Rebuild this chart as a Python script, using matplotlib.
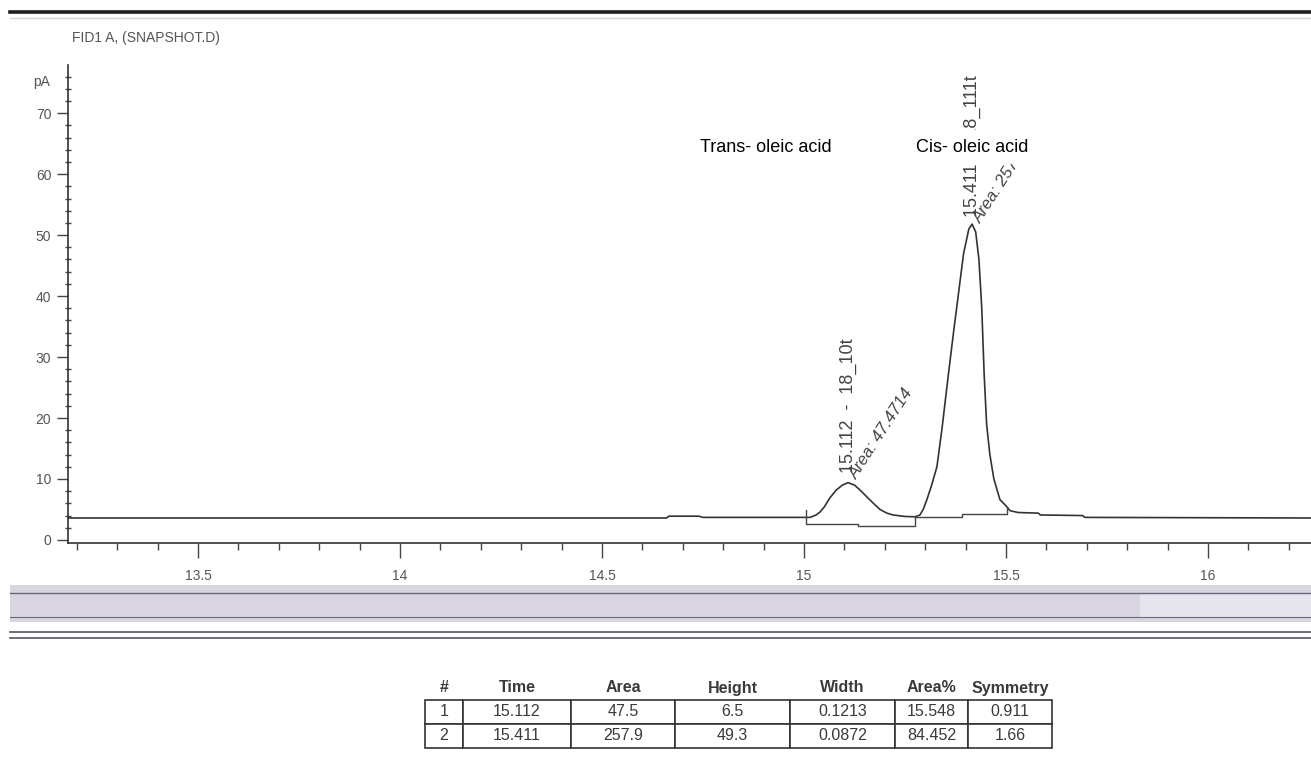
import matplotlib.pyplot as plt
from matplotlib.lines import Line2D
from matplotlib.patches import Rectangle

W, H = 1311, 765

# chromatogram trace (min, pA)
TIME = [13.178, 14.66, 14.665, 14.74, 14.75, 15.00, 15.015, 15.03, 15.04, 15.05,
        15.064, 15.08, 15.095, 15.109, 15.125, 15.14, 15.158, 15.175, 15.188,
        15.205, 15.22, 15.25, 15.275, 15.287, 15.295, 15.304, 15.315, 15.329,
        15.342, 15.356, 15.37, 15.381, 15.395, 15.408, 15.416, 15.425, 15.433,
        15.440, 15.446, 15.452, 15.46, 15.47, 15.485, 15.50, 15.51, 15.53,
        15.58, 15.585, 15.69, 15.695, 16.255]
SIGNAL = [3.6, 3.6, 3.9, 3.9, 3.7, 3.7, 3.7, 4.1, 4.6, 5.4,
          6.9, 8.2, 9.0, 9.4, 9.0, 8.1, 6.9, 5.8, 5.0,
          4.4, 4.1, 3.85, 3.8, 4.1, 5.0, 6.6, 8.8, 12.0,
          18.5, 26.4, 34.0, 39.7, 47.0, 51.0, 51.8, 50.5, 46.0,
          38.0, 27.0, 19.0, 14.0, 10.0, 6.6, 5.6, 4.8, 4.5,
          4.4, 4.1, 4.0, 3.7, 3.6]

# integration baselines
BASE1_T = [15.004, 15.004, 15.134, 15.134, 15.275, 15.275]
BASE1_Y = [4.9, 2.6, 2.6, 2.3, 2.3, 3.8]
BASE2_T = [15.275, 15.39, 15.39, 15.503, 15.503]
BASE2_Y = [3.8, 3.8, 4.2, 4.2, 5.4]

# peak labels
PEAK_RT = [15.109, 15.416]
PEAK_TOP = [11.0, 53.0]
PEAK_NAMES = ["15.112  -  18_10t", "15.411  -  18_111t"]
AREA_LABELS = ["Area: 47.4714", "Area: 257.929"]

# results table
COLUMNS = ["#", "Time", "Area", "Height", "Width", "Area%", "Symmetry"]
ROW1 = ["1", "15.112", "47.5", "6.5", "0.1213", "15.548", "0.911"]
ROW2 = ["2", "15.411", "257.9", "49.3", "0.0872", "84.452", "1.66"]

XTICKS = [13.5, 14, 14.5, 15, 15.5, 16]
YTICKS = [0, 10, 20, 30, 40, 50, 60, 70]

SANS = ["Liberation Sans", "DejaVu Sans"]


def fx(x):
    return x / W


def fy(y):
    return 1 - y / H


fig = plt.figure(figsize=(W / 100, H / 100), dpi=100)

# window decorations
fig.add_artist(Line2D([fx(10), 1], [fy(12), fy(12)], color="#1e1e1e", lw=2.6))
fig.add_artist(Line2D([fx(10), 1], [fy(18), fy(18)], color="#d5d5d5", lw=1.0))
fig.text(fx(72), fy(38), "FID1 A, (SNAPSHOT.D)", family=SANS, fontsize=10,
         color="#555555", va="center")
fig.text(fx(42), fy(82), "pA", family=SANS, fontsize=10, color="#555555",
         ha="center", va="center")

ax = fig.add_axes([fx(68), fy(543), 1 - fx(68), (543 - 65) / H])
ax.plot(TIME, SIGNAL, color="#333333", lw=1.2)
ax.plot(BASE1_T, BASE1_Y, color="#444444", lw=1.0)
ax.plot(BASE2_T, BASE2_Y, color="#444444", lw=1.0)
ax.set_xlim(13.178, 16.255)
ax.set_ylim(-0.5, 77.9)

for sp in ["top", "right"]:
    ax.spines[sp].set_visible(False)
for sp in ["left", "bottom"]:
    ax.spines[sp].set_color("#333333")
    ax.spines[sp].set_linewidth(1.2)

ax.set_xticks(XTICKS)
ax.set_xticklabels([f"{t:g}" for t in XTICKS])
ax.set_xticks([13.2 + 0.1 * i for i in range(31)], minor=True)
ax.set_yticks(YTICKS)
ax.set_yticks(list(range(0, 78, 2)), minor=True)
ax.tick_params(axis="x", which="major", direction="out", length=11, width=1.0,
               color="#444444", labelcolor="#555555", labelsize=10, pad=8)
ax.tick_params(axis="x", which="minor", direction="out", length=5, width=1.0,
               color="#444444")
ax.tick_params(axis="y", which="major", direction="out", length=8, width=1.0,
               color="#444444", labelcolor="#555555", labelsize=10, pad=4)
ax.tick_params(axis="y", which="minor", direction="inout", length=4, width=1.0,
               color="#444444")
for lab in ax.get_xticklabels() + ax.get_yticklabels():
    lab.set_family(SANS)

for rt, top, name, area in zip(PEAK_RT, PEAK_TOP, PEAK_NAMES, AREA_LABELS):
    ax.text(rt, top, name, rotation=90, rotation_mode="anchor", ha="left",
            va="center", fontsize=13, color="#444444", clip_on=False,
            family=SANS)
    ax.text(rt + 0.013, top - 0.8, area, rotation=57, rotation_mode="anchor",
            ha="left", va="center", fontsize=12, style="italic",
            color="#444444", clip_on=False, family=SANS)

box = dict(facecolor="white", edgecolor="none", pad=6)
fig.text(fx(766), fy(148), "Trans- oleic acid", ha="center", va="center",
         fontsize=13, family=SANS, bbox=box)
fig.text(fx(972), fy(147), "Cis- oleic acid", ha="center", va="center",
         fontsize=13, family=SANS, bbox=box)

# scroll bar band
fig.add_artist(Rectangle((fx(10), fy(622)), 1 - fx(10), (622 - 585) / H,
                         transform=fig.transFigure, facecolor="#d8d4e0",
                         edgecolor="none"))
fig.add_artist(Rectangle((fx(1140), fy(617)), 1 - fx(1140), (617 - 594) / H,
                         transform=fig.transFigure, facecolor="#e6e4ec",
                         edgecolor="none"))
for yy, c, lw in [(593, "#6a6878", 1.0), (617, "#6a6878", 0.8),
                  (632, "#55535f", 1.2), (638, "#55535f", 1.2)]:
    fig.add_artist(Line2D([fx(10), 1], [fy(yy), fy(yy)], color=c, lw=lw))

# results table
col_edges = [425, 463, 571, 675, 790, 895, 968, 1052]
tab_ax = fig.add_axes([fx(425), fy(748), (1052 - 425) / W, (748 - 676) / H])
tab_ax.axis("off")
widths = [col_edges[i + 1] - col_edges[i] for i in range(len(COLUMNS))]
tbl = tab_ax.table(cellText=[COLUMNS, ROW1, ROW2], colWidths=widths,
                   cellLoc="center", bbox=[0, 0, 1, 1])
tbl.auto_set_font_size(False)
for (r, c), cell in tbl.get_celld().items():
    cell.set_edgecolor("#333333")
    cell.set_linewidth(1.2)
    t = cell.get_text()
    t.set_family(SANS)
    t.set_fontsize(11.5)
    t.set_color("#3a3a3a")
    if r == 0:
        cell.visible_edges = ""
        t.set_fontweight("bold")

fig.savefig("out.png", dpi=100)
